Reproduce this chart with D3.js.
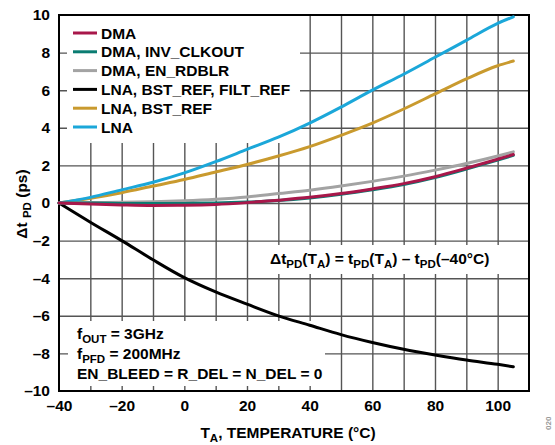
<!DOCTYPE html>
<html><head><meta charset="utf-8">
<script src="https://cdn.jsdelivr.net/npm/d3@7"></script>
<style>
body{margin:0;background:#fff;}
text{font-family:"Liberation Sans",Arial,sans-serif;font-weight:bold;fill:#000;}
</style></head>
<body>
<svg id="chart" width="555" height="445"></svg>
<script>
const temps = [-40,-30,-20,-10,0,10,20,30,40,50,60,70,80,90,100,105];
const dma        = [0,-0.05,-0.1,-0.13,-0.12,-0.08,0.02,0.15,0.3,0.5,0.75,1.03,1.4,1.85,2.33,2.58];
const dmaInv     = [0,0,-0.02,-0.03,-0.02,0.0,0.05,0.13,0.27,0.46,0.7,0.98,1.35,1.8,2.28,2.53];
const dmaRdblr   = [0,0.02,0.04,0.07,0.12,0.2,0.32,0.5,0.68,0.9,1.15,1.43,1.75,2.1,2.5,2.72];
const lnaBstFilt = [0,-1.02,-2.0,-3.02,-3.97,-4.73,-5.38,-6.0,-6.5,-7.0,-7.42,-7.78,-8.08,-8.35,-8.58,-8.71];
const lnaBst     = [0,0.25,0.55,0.9,1.25,1.65,2.05,2.5,3.0,3.6,4.25,5.0,5.8,6.6,7.3,7.55];
const lna        = [0,0.3,0.7,1.1,1.6,2.2,2.85,3.5,4.25,5.1,6.0,6.85,7.75,8.65,9.55,9.9];
const seriesNames = ["DMA","DMA, INV_CLKOUT","DMA, EN_RDBLR","LNA, BST_REF, FILT_REF","LNA, BST_REF","LNA"];
const seriesColors = ["#a8174a","#0a7c72","#a3a3a3","#000000","#c99a2e","#1ba7d9"];
const xTicks = [-40,-20,0,20,40,60,80,100];
const yTicks = [-10,-8,-6,-4,-2,0,2,4,6,8,10];
const seriesData = [dma,dmaInv,dmaRdblr,lnaBstFilt,lnaBst,lna];

const svg = d3.select("#chart");
const L=59,R=529,T=15,B=391;
const x = d3.scaleLinear().domain([-40,110]).range([L,R]);
const y = d3.scaleLinear().domain([-10,10]).range([B,T]);
const fmt = d => String(d).replace("-","\u2013");

// grid
svg.append("g").attr("transform",`translate(0,${B})`)
  .call(d3.axisBottom(x).tickValues(d3.range(-30,110,10)).tickSize(-(B-T)).tickFormat(""))
  .call(g=>g.select(".domain").remove())
  .call(g=>g.selectAll("line").attr("stroke","#555").attr("stroke-width",1.4));
svg.append("g").attr("transform",`translate(${L},0)`)
  .call(d3.axisLeft(y).tickValues(d3.range(-8,10,2)).tickSize(-(R-L)).tickFormat(""))
  .call(g=>g.select(".domain").remove())
  .call(g=>g.selectAll("line").attr("stroke","#555").attr("stroke-width",1.4));

// white boxes
const boxes = [[67,16,300,143],[275,245,528,274],[68,321,325,386]];
boxes.forEach(b=>svg.append("rect").attr("x",b[0]).attr("y",b[1]).attr("width",b[2]-b[0]).attr("height",b[3]-b[1]).attr("fill","#fff"));

// frame
svg.append("rect").attr("x",L).attr("y",T).attr("width",R-L).attr("height",B-T)
  .attr("fill","none").attr("stroke","#000").attr("stroke-width",2);

// axes labels
svg.append("g").attr("transform",`translate(${L},0)`)
  .call(d3.axisLeft(y).tickValues(yTicks).tickSize(0).tickPadding(9).tickFormat(fmt))
  .call(g=>g.select(".domain").remove())
  .call(g=>g.selectAll("text").attr("font-size",15.5).attr("font-family","Liberation Sans").attr("font-weight","bold").attr("fill","#000"));
svg.append("g").attr("transform",`translate(0,${B})`)
  .call(d3.axisBottom(x).tickValues(xTicks).tickSize(0).tickPadding(9).tickFormat(fmt))
  .call(g=>g.select(".domain").remove())
  .call(g=>g.selectAll("text").attr("font-size",15.5).attr("font-family","Liberation Sans").attr("font-weight","bold").attr("fill","#000"));

// lines
const line = d3.line().x((d,i)=>x(temps[i])).y(d=>y(d)).curve(d3.curveMonotoneX);
const order = [3,4,5,2,1,0];
order.forEach(k=>{
  svg.append("path").datum(seriesData[k]).attr("d",line).attr("fill","none")
    .attr("stroke",seriesColors[k]).attr("stroke-width",3).attr("stroke-linecap","round");
});

// legend
seriesNames.forEach((n,i)=>{
  const yy = 33 + i*18.8;
  svg.append("line").attr("x1",73).attr("x2",97).attr("y1",yy).attr("y2",yy)
    .attr("stroke",seriesColors[i]).attr("stroke-width",3);
  svg.append("text").attr("x",101).attr("y",yy+5.5).attr("font-size",15.5).text(n);
});

// annotations
function subText(xp, yp, parts, anchor){
  const t = svg.append("text").attr("x",xp).attr("y",yp).attr("font-size",15.5).attr("text-anchor",anchor||"start");
  parts.forEach(p=>{
    if(p[1]) t.append("tspan").attr("font-size",11.5).attr("dy",4).text(p[0]);
    else t.append("tspan").attr("dy",p[2]||0).text(p[0]);
  });
  return t;
}
// Δt_PD(T_A) = t_PD(T_A) – t_PD(–40°C)
subText(270,264,[["\u0394t"],["PD",1],["(T",0,-4],["A",1],[") = t",0,-4],["PD",1],["(T",0,-4],["A",1],[") \u2013 t",0,-4],["PD",1],["(\u201340\u00B0C)",0,-4]]);
subText(77,339,[["f"],["OUT",1],[" = 3GHz",0,-4]]);
subText(77,359,[["f"],["PFD",1],[" = 200MHz",0,-4]]);
svg.append("text").attr("x",77).attr("y",379).attr("font-size",15.5).text("EN_BLEED = R_DEL = N_DEL = 0");

// axis titles
subText(288,438,[["T"],["A",1],[", TEMPERATURE (\u00B0C)",0,-4]],"middle");
const yt = subText(0,0,[["\u0394t "],["PD",1],[" (ps)",0,-4]],"middle");
yt.attr("transform","translate(27,204) rotate(-90)");

// figure id
svg.append("text").attr("transform","translate(551,430) rotate(-90)").attr("font-size",8).attr("font-weight","normal").style("fill","#999").text("020");
</script>
</body></html>
